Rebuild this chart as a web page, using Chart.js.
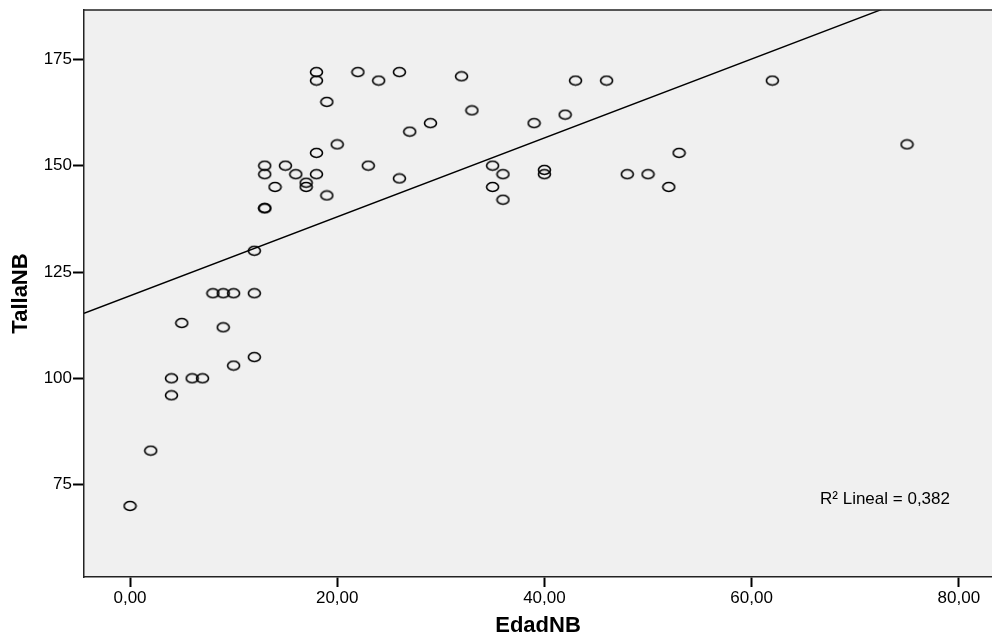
<!DOCTYPE html>
<html>
<head>
<meta charset="utf-8">
<script src="https://cdn.jsdelivr.net/npm/chart.js@4.4.1/dist/chart.umd.min.js"></script>
<style>
  html, body { margin: 0; padding: 0; background: #fff; overflow: hidden; }
  #wrap { width: 992px; height: 637px; }
  canvas { display: block; }
</style>
</head>
<body>
<div id="wrap"><canvas id="scatterChart" width="992" height="637"></canvas></div>
<script>
// EdadNB / TallaNB
var edad = [0, 2, 4, 4, 5, 6, 7, 8, 9, 10, 12, 9, 10, 12, 12, 13, 13, 13, 13,
  14, 15, 16, 17, 17, 18, 18, 18, 18, 19, 19, 20, 22, 23, 24, 26, 26, 27, 29,
  32, 33, 35, 35, 36, 36, 39, 40, 40, 42, 43, 46, 48, 50, 52, 53, 62, 75];
var talla = [70, 83, 100, 96, 113, 100, 100, 120, 120, 120, 120, 112, 103, 105, 130, 140, 140, 148, 150,
  145, 150, 148, 146, 145, 148, 153, 170, 172, 143, 165, 155, 172, 150, 170, 172, 147, 158, 160,
  171, 163, 150, 145, 148, 142, 160, 149, 148, 162, 170, 170, 148, 148, 145, 153, 170, 155];

var xTicks = [0, 20, 40, 60, 80];
var yTicks = [75, 100, 125, 150, 175];
var xRange = [-4.44, 83.2];
var yRange = [53.3, 186.6];

// fit line: intercept, slope
var fitLine = [119.4, 0.928];
var r2Label = 'R\u00b2 Lineal = 0,382';

var points = edad.map(function (x, i) { return { x: x, y: talla[i] }; });
var linePts = xRange.map(function (x) { return { x: x, y: fitLine[0] + fitLine[1] * x }; });

var FONT = '"Liberation Sans", Arial, sans-serif';

// open ellipse marker like SPSS
var marker = document.createElement('canvas');
marker.width = 15; marker.height = 12;
var mctx = marker.getContext('2d');
mctx.strokeStyle = '#000';
mctx.lineWidth = 1.6;
mctx.beginPath();
mctx.ellipse(7.5, 6, 6, 4.5, 0, 0, Math.PI * 2);
mctx.stroke();

var frame = {
  id: 'frame',
  beforeDraw: function (c) {
    var a = c.chartArea, ctx = c.ctx;
    ctx.save();
    ctx.fillStyle = '#f0f0f0';
    ctx.fillRect(a.left, a.top, a.right - a.left, a.bottom - a.top);
    ctx.restore();
  },
  afterDraw: function (c) {
    var a = c.chartArea, ctx = c.ctx;
    ctx.save();
    ctx.strokeStyle = '#222';
    ctx.lineWidth = 1.5;
    ctx.beginPath();
    ctx.moveTo(a.left, a.top);
    ctx.lineTo(a.right, a.top);
    ctx.stroke();
    ctx.fillStyle = '#000';
    ctx.font = '17px ' + FONT;
    ctx.textBaseline = 'middle';
    var px = c.scales.x.getPixelForValue(66.6);
    var py = c.scales.y.getPixelForValue(71.6);
    ctx.fillText(r2Label, px, py);
    ctx.restore();
  }
};

var chart = document.getElementById('scatterChart');

new Chart(chart, {
  type: 'scatter',
  data: {
    datasets: [{
      label: 'TallaNB',
      data: points,
      pointStyle: marker,
      pointRadius: 6,
      pointHoverRadius: 6
    }, {
      type: 'line',
      label: 'Lineal',
      data: linePts,
      borderColor: '#000',
      borderWidth: 1.4,
      pointRadius: 0,
      fill: false
    }]
  },
  options: {
    responsive: false,
    animation: false,
    layout: { autoPadding: false, padding: { top: 10, right: 0, left: 0, bottom: 0 } },
    plugins: { legend: { display: false }, tooltip: { enabled: false } },
    scales: {
      x: {
        type: 'linear',
        min: xRange[0],
        max: xRange[1],
        afterBuildTicks: function (s) { s.ticks = xTicks.map(function (v) { return { value: v }; }); },
        afterFit: function (s) { s.height = 60; s.paddingLeft = 0; s.paddingRight = 0; },
        ticks: {
          color: '#000',
          padding: 1,
          font: { family: FONT, size: 17 },
          callback: function (v) { return v.toFixed(2).replace('.', ','); }
        },
        grid: { drawOnChartArea: false, drawTicks: true, tickLength: 10, tickWidth: 2, color: '#000' },
        border: { color: '#222', width: 1.5 },
        title: {
          display: true,
          text: 'EdadNB',
          color: '#000',
          padding: { top: 0, bottom: 0 },
          font: { family: FONT, size: 22, weight: 'bold', lineHeight: 1 }
        }
      },
      y: {
        type: 'linear',
        min: yRange[0],
        max: yRange[1],
        afterBuildTicks: function (s) { s.ticks = yTicks.map(function (v) { return { value: v }; }); },
        afterFit: function (s) { s.width = 84; s.paddingTop = 0; s.paddingBottom = 0; },
        ticks: {
          color: '#000',
          padding: 1,
          font: { family: FONT, size: 17 }
        },
        grid: { drawOnChartArea: false, drawTicks: true, tickLength: 11, tickWidth: 2, color: '#000' },
        border: { color: '#222', width: 1.5 },
        title: {
          display: true,
          text: 'TallaNB',
          color: '#000',
          padding: { top: 10, bottom: 0 },
          font: { family: FONT, size: 22, weight: 'bold', lineHeight: 1 }
        }
      }
    }
  },
  plugins: [frame]
});
</script>
</body>
</html>
